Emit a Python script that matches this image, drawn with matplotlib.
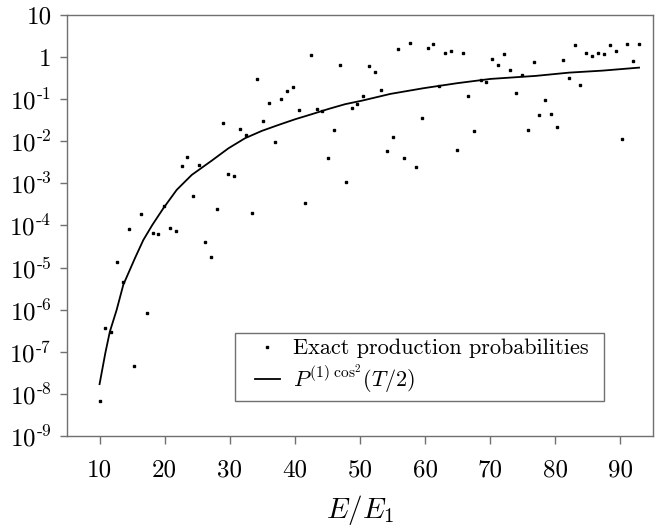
import matplotlib
matplotlib.use("Agg")
import matplotlib.pyplot as plt
from matplotlib.patches import Rectangle

plt.rcParams['font.family'] = ['cmr10', 'DejaVu Serif']
plt.rcParams['mathtext.fontset'] = 'cm'
plt.rcParams['axes.unicode_minus'] = False

# exact production probabilities
energy = [10.0, 10.88, 11.77, 12.66, 13.58, 14.46, 15.34, 16.31, 17.23, 18.15,
          18.97, 19.85, 20.82, 21.69, 22.62, 23.43, 24.35, 25.28, 26.2, 27.12,
          28.0, 28.92, 29.74, 30.66, 31.58, 32.51, 33.43, 34.25, 35.18, 36.05,
          36.97, 37.89, 38.82, 39.65, 40.57, 41.49, 42.42, 43.34, 44.15, 45.12,
          46.0, 46.88, 47.85, 48.77, 49.58, 50.46, 51.43, 52.31, 53.23, 54.2,
          55.08, 55.89, 56.82, 57.69, 58.62, 59.54, 60.42, 61.28, 62.2, 63.12,
          64.05, 64.92, 65.89, 66.66, 67.58, 68.51, 69.43, 70.35, 71.26, 72.11,
          73.03, 73.95, 74.88, 75.77, 76.66, 77.51, 78.43, 79.38, 80.28, 81.17,
          82.06, 82.95, 83.85, 84.77, 85.69, 86.62, 87.46, 88.35, 89.28, 90.18,
          91.08, 92.0, 92.92]
prob = [6.6e-9, 3.7e-7, 3.0e-7, 1.38e-5, 4.5e-6, 8.1e-5, 4.5e-8, 1.9e-4, 8.5e-7, 6.7e-5,
        6.2e-5, 2.9e-4, 8.7e-5, 7.4e-5, 2.6e-3, 4.2e-3, 5.1e-4, 2.7e-3, 4.0e-5, 1.8e-5,
        2.4e-4, 2.7e-2, 1.64e-3, 1.48e-3, 1.96e-2, 1.41e-2, 1.95e-4, 0.297, 2.99e-2, 8.3e-2,
        9.5e-3, 0.1, 0.154, 0.198, 5.6e-2, 3.5e-4, 1.13, 5.75e-2, 5.2e-2, 3.9e-3,
        1.82e-2, 0.66, 1.06e-3, 6.25e-2, 7.6e-2, 0.119, 0.625, 0.443, 0.166, 5.9e-3,
        1.28e-2, 1.53, 4.1e-3, 2.1, 2.4e-3, 3.5e-2, 1.62, 2.01, 0.206, 1.27,
        1.41, 6.1e-3, 1.22, 0.118, 1.74e-2, 0.286, 0.249, 0.90, 0.63, 1.2,
        0.489, 0.143, 0.382, 1.82e-2, 0.757, 4.2e-2, 9.3e-2, 4.5e-2, 2.19e-2, 0.853,
        0.31, 1.96, 0.221, 1.22, 1.04, 1.22, 1.2, 1.89, 1.41, 1.10e-2,
        1.99, 0.795, 2.01]

# first order approximation P^(1) cos^2(T/2)
curve_e = [10.0, 10.88, 11.58, 12.62, 13.65, 15.43, 16.72, 18.11, 19.8, 21.85,
           24.15, 27.23, 29.8, 32.35, 34.92, 37.49, 40.05, 42.62, 45.17, 47.74,
           50.31, 54.66, 59.78, 64.92, 70.05, 76.97, 82.11, 87.23, 92.86]
curve_p = [1.7e-8, 9.2e-8, 3.0e-7, 9.8e-7, 3.9e-6, 1.66e-5, 4.5e-5, 1.03e-4, 2.56e-4, 7.0e-4,
           1.58e-3, 3.46e-3, 6.8e-3, 1.18e-2, 1.76e-2, 2.44e-2, 3.33e-2, 4.4e-2, 5.85e-2, 7.6e-2,
           9.2e-2, 0.133, 0.182, 0.239, 0.302, 0.356, 0.426, 0.475, 0.56]

yticks = [1e-9, 1e-8, 1e-7, 1e-6, 1e-5, 1e-4, 1e-3, 1e-2, 1e-1, 1, 10]
ylabels = [r'$10^{\text{-%d}}$' % k for k in range(9, 0, -1)] + ['1', '10']
xticks = [10, 20, 30, 40, 50, 60, 70, 80, 90]

fig = plt.figure(figsize=(6.7, 5.31), dpi=100)
ax = fig.add_axes([0.1, 0.179, 0.8746, 0.7929])

ax.plot(energy, prob, linestyle='none', marker='s', markersize=1.7,
        color='black', label='Exact production probabilities')
ax.plot(curve_e, curve_p, color='black', linewidth=1.3,
        label=r'$P^{(1)\;\mathrm{cos}^{2}}(T/2)$')

ax.set_yscale('log')
ax.set_xlim(5, 95)
ax.set_ylim(1e-9, 10)
ax.set_yticks(yticks)
ax.set_yticklabels(ylabels)
ax.minorticks_off()
ax.set_xticks(xticks)
ax.set_xticklabels([str(t) for t in xticks])

for s in ax.spines.values():
    s.set_color('#707070')
    s.set_linewidth(1.0)
ax.tick_params(axis='y', length=5, width=1, color='#707070', pad=6, labelsize=18)
ax.tick_params(axis='x', length=6, width=1, color='#707070', pad=11, labelsize=18)

ax.set_xlabel(r'$E/E_1$', fontsize=21, labelpad=8)

# legend box drawn separately to get the wide side padding
ax.add_patch(Rectangle((0.287, 0.0824), 0.629, 0.1616, transform=ax.transAxes,
                       facecolor='white', edgecolor='#707070', linewidth=1.0, zorder=4))
leg = ax.legend(loc='center left', bbox_to_anchor=(0.321, 0.163), fontsize=16,
                frameon=False, handlelength=1.1, handletextpad=0.6,
                borderpad=0, labelspacing=0.2, borderaxespad=0)
leg.set_zorder(5)

fig.savefig('out.png', dpi=100)
